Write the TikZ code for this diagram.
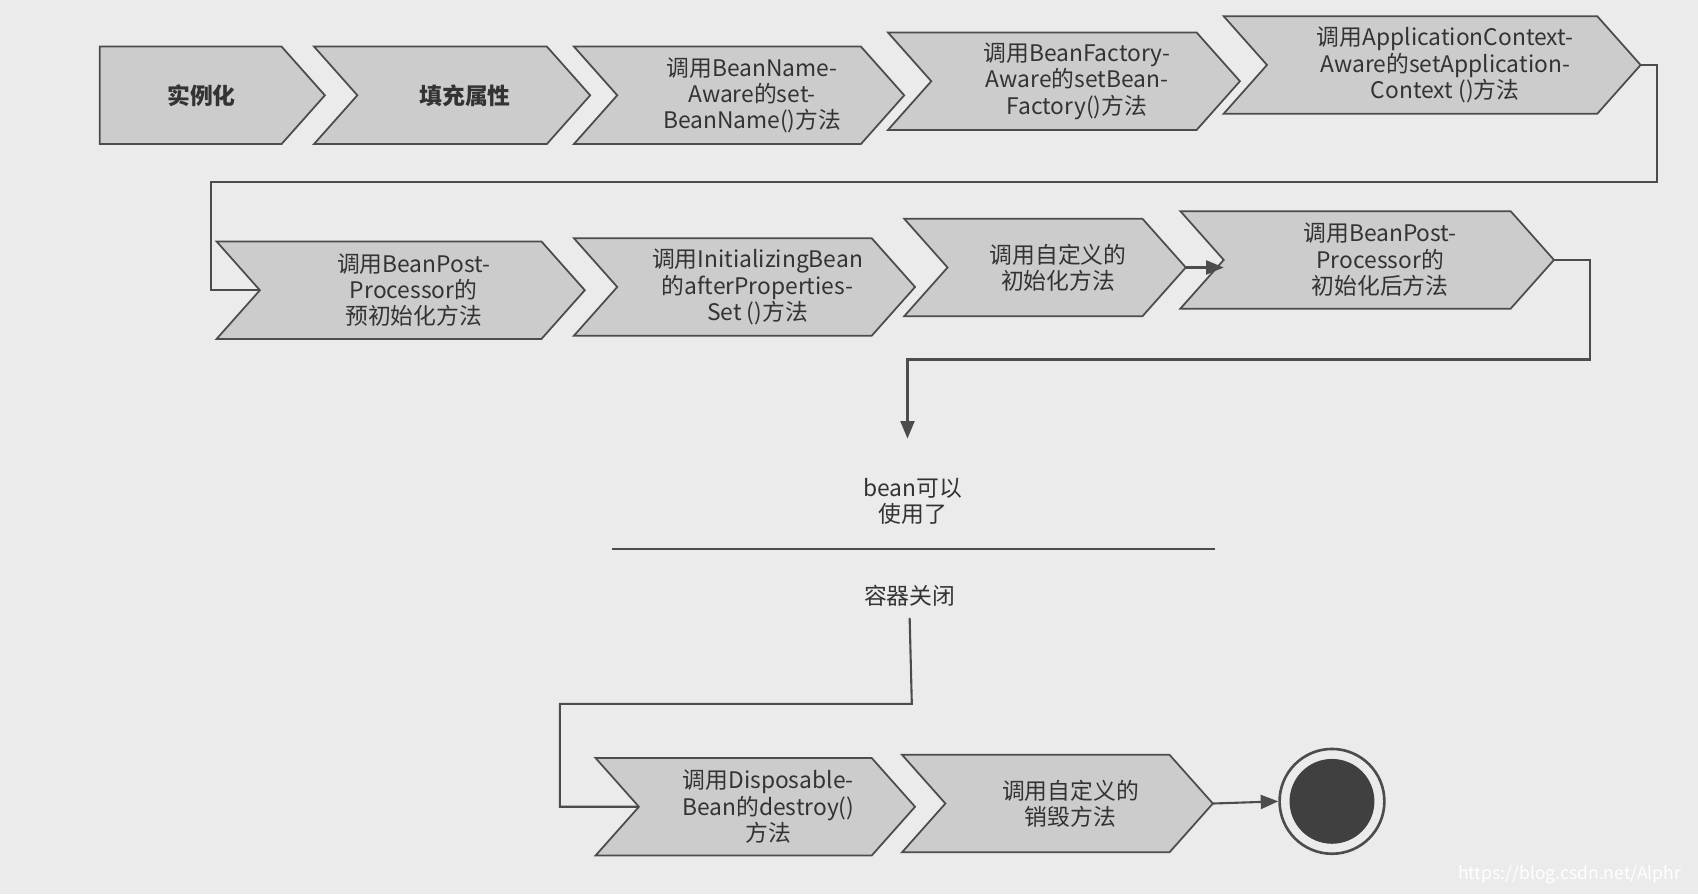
\documentclass[tikz,border=0pt]{standalone}
\usepackage{fontspec}
\setmainfont{Noto Sans CJK SC}
\usetikzlibrary{arrows.meta}
\tikzset{chevfill/.style={fill=black!20,draw=black!70,line width=1pt},
 lbl/.style={align=center,font=\fontsize{13}{15}\selectfont,text=black!80},
 conn/.style={draw=black!70,line width=1.2pt},
 arr/.style={conn,-{Triangle[length=10pt,width=8pt]}}}
% #1 name, #2 x1, #3 x2, #4 yc, #5 notch(0/1), #6 text
\newcommand\chev[6]{%
 \path[chevfill] (#2,#4-45) -- (#3-40,#4-45) -- (#3,#4) -- (#3-40,#4+45) -- (#2,#4+45)
   \ifnum#5=1 -- (#2+40,#4)\fi -- cycle;
 \coordinate (#1-in) at (\ifnum#5=1 #2+40\else #2\fi,#4);
 \coordinate (#1-out) at (#3,#4);
 \node[lbl] (#1) at ({(#2+#3)/2+\ifnum#5=1 12\else -10\fi},#4) {#6};}
\begin{document}
\begin{tikzpicture}[x=0.0217cm,y=-0.0217cm]
\useasboundingbox (0,0) rectangle (1568,826);
\fill[black!8] (0,0) rectangle (1568,826);
% row 1
\chev{a}{92}{300}{88}{0}{\textbf{实例化}}
\chev{b}{290}{545}{88}{1}{\textbf{填充属性}}
\chev{c}{530}{835}{88}{1}{调用BeanName-\\Aware的set-\\BeanName()方法}
\chev{d}{820}{1145}{75}{1}{调用BeanFactory-\\Aware的setBean-\\Factory()方法}
\chev{e}{1130}{1515}{60}{1}{调用ApplicationContext-\\Aware的setApplication-\\Context ()方法}
% row 2
\chev{f}{200}{540}{268}{1}{调用BeanPost-\\Processor的\\预初始化方法}
\chev{g}{530}{845}{265}{1}{调用InitializingBean\\的afterProperties-\\Set ()方法}
\chev{h}{835}{1095}{247}{1}{调用自定义的\\初始化方法}
\chev{i}{1090}{1435}{240}{1}{调用BeanPost-\\Processor的\\初始化后方法}
% bottom
\chev{j}{550}{845}{745}{1}{调用Disposable-\\Bean的destroy()\\方法}
\chev{k}{833}{1120}{742}{1}{调用自定义的\\销毁方法}
\node[draw=black!70,line width=1.5pt,circle,inner sep=0pt,minimum size=2.1cm] (end) at (1230,740) {};
\fill[black!75] (end.center) circle (0.85cm);
\node[lbl] (use) at (843,463) {bean可以\\使用了};
\node[lbl] (close) at (840,550) {容器关闭};
\coordinate (s1) at (565,507); \coordinate (s2) at (1122,507);
\draw[conn] (s1) -- (s2);
% connectors
\draw[conn] (e-out) -- ++(15,0) |- (195,168) |- (f-in);
\draw[arr] (h-out) -- (1130,247);
\draw[arr] (i-out) -- ++(33,0) |- (838,332) -- (838,405);
\draw[conn] (close.south) ++(0,5) -- (842,650) -| (517,745) -- (j-in);
\draw[arr] (k-out) -- (end.west);
\node[font=\fontsize{10}{12}\selectfont,text=white,anchor=east] (wm) at (1558,808) {https://blog.csdn.net/Alphr};
\end{tikzpicture}
\end{document}
